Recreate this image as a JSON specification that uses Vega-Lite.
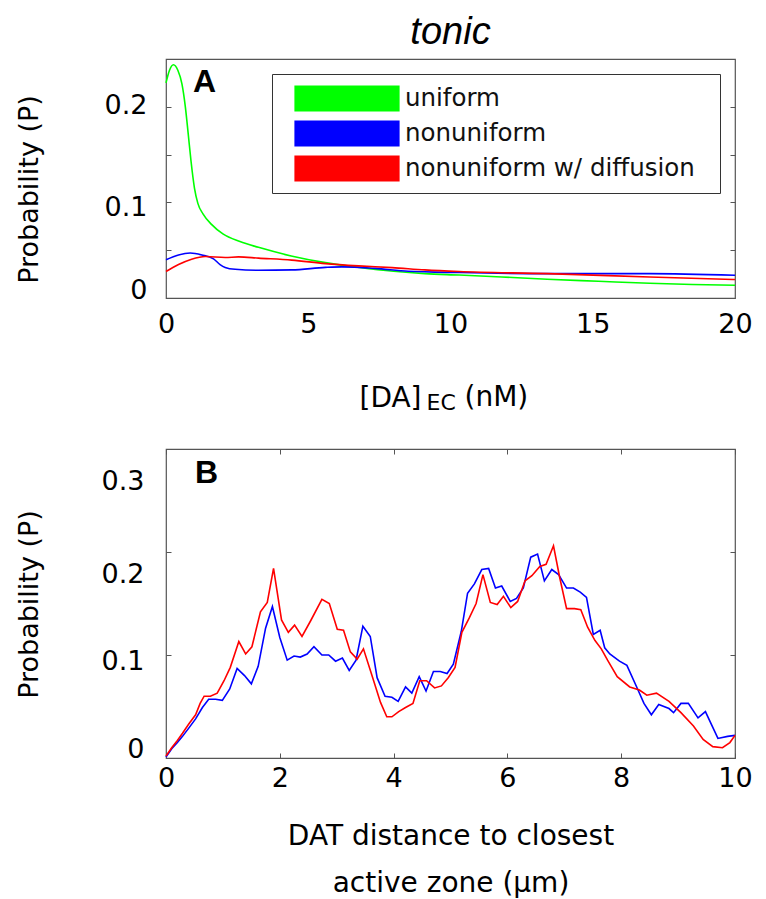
{
  "$schema": "https://vega.github.io/schema/vega-lite/v6.json",
  "background": "white",
  "padding": {"left": 14, "top": 14, "right": 25, "bottom": 5},
  "title": {"text": "tonic", "font": "Liberation Sans", "fontSize": 38, "fontStyle": "italic", "fontWeight": "normal", "color": "#000", "anchor": "middle", "frame": "group", "baseline": "alphabetic", "offset": -24},
  "config": {
    "font": "DejaVu Sans",
    "view": {"stroke": "#555", "strokeWidth": 1.2},
    "axis": {"domain": false, "grid": false, "labelFontSize": 27, "labelColor": "#000", "titleFontSize": 27, "titleFontWeight": "normal", "titleColor": "#000", "tickColor": "#555", "tickSize": -5, "tickWidth": 1, "labelFlush": false, "labelOverlap": false}
  },
  "datasets": {
    "densA": [
      {"series": "uniform", "conc": 0, "p": 0.225},
      {"series": "uniform", "conc": 0.12, "p": 0.238},
      {"series": "uniform", "conc": 0.26, "p": 0.244},
      {"series": "uniform", "conc": 0.42, "p": 0.238},
      {"series": "uniform", "conc": 0.56, "p": 0.224},
      {"series": "uniform", "conc": 0.68, "p": 0.2},
      {"series": "uniform", "conc": 0.78, "p": 0.172},
      {"series": "uniform", "conc": 0.88, "p": 0.143},
      {"series": "uniform", "conc": 1.0, "p": 0.115},
      {"series": "uniform", "conc": 1.12, "p": 0.099},
      {"series": "uniform", "conc": 1.3, "p": 0.088},
      {"series": "uniform", "conc": 1.6, "p": 0.077},
      {"series": "uniform", "conc": 2.0, "p": 0.067},
      {"series": "uniform", "conc": 2.6, "p": 0.059},
      {"series": "uniform", "conc": 3.25, "p": 0.053},
      {"series": "uniform", "conc": 4.4, "p": 0.044},
      {"series": "uniform", "conc": 5.6, "p": 0.037},
      {"series": "uniform", "conc": 6.8, "p": 0.032},
      {"series": "uniform", "conc": 8.0, "p": 0.028},
      {"series": "uniform", "conc": 9.1, "p": 0.0255},
      {"series": "uniform", "conc": 10.3, "p": 0.024},
      {"series": "uniform", "conc": 11.8, "p": 0.022},
      {"series": "uniform", "conc": 13.4, "p": 0.0196},
      {"series": "uniform", "conc": 15.2, "p": 0.0175},
      {"series": "uniform", "conc": 17, "p": 0.0154},
      {"series": "uniform", "conc": 18.5, "p": 0.0142},
      {"series": "uniform", "conc": 20, "p": 0.0133},
      {"series": "nonuniform", "conc": 0, "p": 0.04},
      {"series": "nonuniform", "conc": 0.44, "p": 0.045},
      {"series": "nonuniform", "conc": 0.85, "p": 0.047},
      {"series": "nonuniform", "conc": 1.26, "p": 0.045},
      {"series": "nonuniform", "conc": 1.67, "p": 0.041},
      {"series": "nonuniform", "conc": 1.9, "p": 0.035},
      {"series": "nonuniform", "conc": 2.08, "p": 0.032},
      {"series": "nonuniform", "conc": 2.43, "p": 0.03},
      {"series": "nonuniform", "conc": 3.25, "p": 0.029},
      {"series": "nonuniform", "conc": 4.42, "p": 0.0294},
      {"series": "nonuniform", "conc": 5.6, "p": 0.032},
      {"series": "nonuniform", "conc": 6.18, "p": 0.0326},
      {"series": "nonuniform", "conc": 7.35, "p": 0.031},
      {"series": "nonuniform", "conc": 8.52, "p": 0.028},
      {"series": "nonuniform", "conc": 10.3, "p": 0.0266},
      {"series": "nonuniform", "conc": 13.4, "p": 0.0255},
      {"series": "nonuniform", "conc": 17, "p": 0.0255},
      {"series": "nonuniform", "conc": 20, "p": 0.0238},
      {"series": "nonuniform w/ diffusion", "conc": 0, "p": 0.0277},
      {"series": "nonuniform w/ diffusion", "conc": 0.44, "p": 0.035},
      {"series": "nonuniform w/ diffusion", "conc": 0.9, "p": 0.0406},
      {"series": "nonuniform w/ diffusion", "conc": 1.38, "p": 0.0434},
      {"series": "nonuniform w/ diffusion", "conc": 2.08, "p": 0.0424},
      {"series": "nonuniform w/ diffusion", "conc": 2.55, "p": 0.043},
      {"series": "nonuniform w/ diffusion", "conc": 3.25, "p": 0.0417},
      {"series": "nonuniform w/ diffusion", "conc": 4.42, "p": 0.0396},
      {"series": "nonuniform w/ diffusion", "conc": 5.6, "p": 0.036},
      {"series": "nonuniform w/ diffusion", "conc": 6.77, "p": 0.0336},
      {"series": "nonuniform w/ diffusion", "conc": 7.95, "p": 0.0318},
      {"series": "nonuniform w/ diffusion", "conc": 9.1, "p": 0.0294},
      {"series": "nonuniform w/ diffusion", "conc": 10.3, "p": 0.0277},
      {"series": "nonuniform w/ diffusion", "conc": 13.4, "p": 0.0255},
      {"series": "nonuniform w/ diffusion", "conc": 17, "p": 0.022},
      {"series": "nonuniform w/ diffusion", "conc": 20, "p": 0.0193}
    ],
    "distB": [
      {"series": "nonuniform", "dist": 0, "p": 0.001},
      {"series": "nonuniform", "dist": 0.1, "p": 0.009},
      {"series": "nonuniform", "dist": 0.2, "p": 0.015},
      {"series": "nonuniform", "dist": 0.29, "p": 0.021},
      {"series": "nonuniform", "dist": 0.4, "p": 0.029},
      {"series": "nonuniform", "dist": 0.52, "p": 0.038},
      {"series": "nonuniform", "dist": 0.64, "p": 0.049},
      {"series": "nonuniform", "dist": 0.75, "p": 0.057},
      {"series": "nonuniform", "dist": 0.87, "p": 0.057},
      {"series": "nonuniform", "dist": 0.99, "p": 0.056},
      {"series": "nonuniform", "dist": 1.12, "p": 0.067},
      {"series": "nonuniform", "dist": 1.25, "p": 0.087},
      {"series": "nonuniform", "dist": 1.38, "p": 0.08},
      {"series": "nonuniform", "dist": 1.5, "p": 0.072},
      {"series": "nonuniform", "dist": 1.62, "p": 0.089},
      {"series": "nonuniform", "dist": 1.75, "p": 0.126},
      {"series": "nonuniform", "dist": 1.87, "p": 0.147},
      {"series": "nonuniform", "dist": 2.0, "p": 0.117},
      {"series": "nonuniform", "dist": 2.13, "p": 0.095},
      {"series": "nonuniform", "dist": 2.25, "p": 0.099},
      {"series": "nonuniform", "dist": 2.36, "p": 0.098},
      {"series": "nonuniform", "dist": 2.48, "p": 0.101},
      {"series": "nonuniform", "dist": 2.6, "p": 0.108},
      {"series": "nonuniform", "dist": 2.74, "p": 0.1},
      {"series": "nonuniform", "dist": 2.86, "p": 0.1},
      {"series": "nonuniform", "dist": 2.98, "p": 0.094},
      {"series": "nonuniform", "dist": 3.1, "p": 0.097},
      {"series": "nonuniform", "dist": 3.22, "p": 0.085},
      {"series": "nonuniform", "dist": 3.34, "p": 0.095},
      {"series": "nonuniform", "dist": 3.46, "p": 0.128},
      {"series": "nonuniform", "dist": 3.59, "p": 0.118},
      {"series": "nonuniform", "dist": 3.71, "p": 0.078},
      {"series": "nonuniform", "dist": 3.85, "p": 0.06},
      {"series": "nonuniform", "dist": 3.97, "p": 0.059},
      {"series": "nonuniform", "dist": 4.08, "p": 0.055},
      {"series": "nonuniform", "dist": 4.21, "p": 0.069},
      {"series": "nonuniform", "dist": 4.32, "p": 0.063},
      {"series": "nonuniform", "dist": 4.45, "p": 0.079},
      {"series": "nonuniform", "dist": 4.57, "p": 0.065},
      {"series": "nonuniform", "dist": 4.7, "p": 0.084},
      {"series": "nonuniform", "dist": 4.82, "p": 0.084},
      {"series": "nonuniform", "dist": 4.94, "p": 0.082},
      {"series": "nonuniform", "dist": 5.05, "p": 0.091},
      {"series": "nonuniform", "dist": 5.19, "p": 0.123},
      {"series": "nonuniform", "dist": 5.3, "p": 0.16},
      {"series": "nonuniform", "dist": 5.42, "p": 0.169},
      {"series": "nonuniform", "dist": 5.55, "p": 0.183},
      {"series": "nonuniform", "dist": 5.67, "p": 0.184},
      {"series": "nonuniform", "dist": 5.79, "p": 0.165},
      {"series": "nonuniform", "dist": 5.9, "p": 0.167},
      {"series": "nonuniform", "dist": 6.05, "p": 0.152},
      {"series": "nonuniform", "dist": 6.16, "p": 0.155},
      {"series": "nonuniform", "dist": 6.28, "p": 0.165},
      {"series": "nonuniform", "dist": 6.41, "p": 0.195},
      {"series": "nonuniform", "dist": 6.53, "p": 0.198},
      {"series": "nonuniform", "dist": 6.65, "p": 0.172},
      {"series": "nonuniform", "dist": 6.78, "p": 0.183},
      {"series": "nonuniform", "dist": 6.9, "p": 0.178},
      {"series": "nonuniform", "dist": 7.04, "p": 0.165},
      {"series": "nonuniform", "dist": 7.16, "p": 0.165},
      {"series": "nonuniform", "dist": 7.28, "p": 0.161},
      {"series": "nonuniform", "dist": 7.39, "p": 0.156},
      {"series": "nonuniform", "dist": 7.51, "p": 0.12},
      {"series": "nonuniform", "dist": 7.63, "p": 0.124},
      {"series": "nonuniform", "dist": 7.71, "p": 0.107},
      {"series": "nonuniform", "dist": 7.8, "p": 0.101},
      {"series": "nonuniform", "dist": 7.97, "p": 0.094},
      {"series": "nonuniform", "dist": 8.1, "p": 0.09},
      {"series": "nonuniform", "dist": 8.28, "p": 0.068},
      {"series": "nonuniform", "dist": 8.4, "p": 0.053},
      {"series": "nonuniform", "dist": 8.53, "p": 0.042},
      {"series": "nonuniform", "dist": 8.66, "p": 0.052},
      {"series": "nonuniform", "dist": 8.84, "p": 0.048},
      {"series": "nonuniform", "dist": 8.92, "p": 0.044},
      {"series": "nonuniform", "dist": 9.05, "p": 0.053},
      {"series": "nonuniform", "dist": 9.18, "p": 0.053},
      {"series": "nonuniform", "dist": 9.35, "p": 0.039},
      {"series": "nonuniform", "dist": 9.48, "p": 0.045},
      {"series": "nonuniform", "dist": 9.7, "p": 0.019},
      {"series": "nonuniform", "dist": 9.87, "p": 0.021},
      {"series": "nonuniform", "dist": 10, "p": 0.022},
      {"series": "nonuniform w/ diffusion", "dist": 0, "p": 0.002},
      {"series": "nonuniform w/ diffusion", "dist": 0.1, "p": 0.01},
      {"series": "nonuniform w/ diffusion", "dist": 0.2, "p": 0.017},
      {"series": "nonuniform w/ diffusion", "dist": 0.29, "p": 0.024},
      {"series": "nonuniform w/ diffusion", "dist": 0.4, "p": 0.033},
      {"series": "nonuniform w/ diffusion", "dist": 0.52, "p": 0.042},
      {"series": "nonuniform w/ diffusion", "dist": 0.6, "p": 0.053},
      {"series": "nonuniform w/ diffusion", "dist": 0.67, "p": 0.06},
      {"series": "nonuniform w/ diffusion", "dist": 0.78, "p": 0.06},
      {"series": "nonuniform w/ diffusion", "dist": 0.9, "p": 0.063},
      {"series": "nonuniform w/ diffusion", "dist": 1.02, "p": 0.075},
      {"series": "nonuniform w/ diffusion", "dist": 1.13, "p": 0.088},
      {"series": "nonuniform w/ diffusion", "dist": 1.28, "p": 0.113},
      {"series": "nonuniform w/ diffusion", "dist": 1.4, "p": 0.101},
      {"series": "nonuniform w/ diffusion", "dist": 1.51, "p": 0.108},
      {"series": "nonuniform w/ diffusion", "dist": 1.66, "p": 0.142},
      {"series": "nonuniform w/ diffusion", "dist": 1.78, "p": 0.151},
      {"series": "nonuniform w/ diffusion", "dist": 1.89, "p": 0.184},
      {"series": "nonuniform w/ diffusion", "dist": 2.03, "p": 0.134},
      {"series": "nonuniform w/ diffusion", "dist": 2.15, "p": 0.122},
      {"series": "nonuniform w/ diffusion", "dist": 2.26, "p": 0.129},
      {"series": "nonuniform w/ diffusion", "dist": 2.39, "p": 0.118},
      {"series": "nonuniform w/ diffusion", "dist": 2.54, "p": 0.133},
      {"series": "nonuniform w/ diffusion", "dist": 2.74, "p": 0.154},
      {"series": "nonuniform w/ diffusion", "dist": 2.87, "p": 0.15},
      {"series": "nonuniform w/ diffusion", "dist": 3.01, "p": 0.125},
      {"series": "nonuniform w/ diffusion", "dist": 3.12, "p": 0.124},
      {"series": "nonuniform w/ diffusion", "dist": 3.24, "p": 0.103},
      {"series": "nonuniform w/ diffusion", "dist": 3.36, "p": 0.096},
      {"series": "nonuniform w/ diffusion", "dist": 3.47, "p": 0.106},
      {"series": "nonuniform w/ diffusion", "dist": 3.62, "p": 0.08},
      {"series": "nonuniform w/ diffusion", "dist": 3.77, "p": 0.054},
      {"series": "nonuniform w/ diffusion", "dist": 3.88, "p": 0.04},
      {"series": "nonuniform w/ diffusion", "dist": 3.97, "p": 0.04},
      {"series": "nonuniform w/ diffusion", "dist": 4.09, "p": 0.045},
      {"series": "nonuniform w/ diffusion", "dist": 4.21, "p": 0.049},
      {"series": "nonuniform w/ diffusion", "dist": 4.34, "p": 0.053},
      {"series": "nonuniform w/ diffusion", "dist": 4.46, "p": 0.075},
      {"series": "nonuniform w/ diffusion", "dist": 4.58, "p": 0.075},
      {"series": "nonuniform w/ diffusion", "dist": 4.72, "p": 0.068},
      {"series": "nonuniform w/ diffusion", "dist": 4.84, "p": 0.07},
      {"series": "nonuniform w/ diffusion", "dist": 4.96, "p": 0.078},
      {"series": "nonuniform w/ diffusion", "dist": 5.08, "p": 0.088},
      {"series": "nonuniform w/ diffusion", "dist": 5.2, "p": 0.122},
      {"series": "nonuniform w/ diffusion", "dist": 5.33, "p": 0.136},
      {"series": "nonuniform w/ diffusion", "dist": 5.45, "p": 0.15},
      {"series": "nonuniform w/ diffusion", "dist": 5.57, "p": 0.178},
      {"series": "nonuniform w/ diffusion", "dist": 5.7, "p": 0.151},
      {"series": "nonuniform w/ diffusion", "dist": 5.82, "p": 0.149},
      {"series": "nonuniform w/ diffusion", "dist": 5.93, "p": 0.157},
      {"series": "nonuniform w/ diffusion", "dist": 6.06, "p": 0.146},
      {"series": "nonuniform w/ diffusion", "dist": 6.18, "p": 0.152},
      {"series": "nonuniform w/ diffusion", "dist": 6.31, "p": 0.172},
      {"series": "nonuniform w/ diffusion", "dist": 6.43, "p": 0.177},
      {"series": "nonuniform w/ diffusion", "dist": 6.57, "p": 0.186},
      {"series": "nonuniform w/ diffusion", "dist": 6.68, "p": 0.188},
      {"series": "nonuniform w/ diffusion", "dist": 6.81, "p": 0.206},
      {"series": "nonuniform w/ diffusion", "dist": 6.92, "p": 0.175},
      {"series": "nonuniform w/ diffusion", "dist": 7.04, "p": 0.145},
      {"series": "nonuniform w/ diffusion", "dist": 7.18, "p": 0.145},
      {"series": "nonuniform w/ diffusion", "dist": 7.29, "p": 0.144},
      {"series": "nonuniform w/ diffusion", "dist": 7.41, "p": 0.127},
      {"series": "nonuniform w/ diffusion", "dist": 7.54, "p": 0.114},
      {"series": "nonuniform w/ diffusion", "dist": 7.65, "p": 0.106},
      {"series": "nonuniform w/ diffusion", "dist": 7.76, "p": 0.095},
      {"series": "nonuniform w/ diffusion", "dist": 7.93, "p": 0.079},
      {"series": "nonuniform w/ diffusion", "dist": 8.15, "p": 0.069},
      {"series": "nonuniform w/ diffusion", "dist": 8.32, "p": 0.066},
      {"series": "nonuniform w/ diffusion", "dist": 8.45, "p": 0.061},
      {"series": "nonuniform w/ diffusion", "dist": 8.62, "p": 0.063},
      {"series": "nonuniform w/ diffusion", "dist": 8.84, "p": 0.055},
      {"series": "nonuniform w/ diffusion", "dist": 9.05, "p": 0.044},
      {"series": "nonuniform w/ diffusion", "dist": 9.27, "p": 0.031},
      {"series": "nonuniform w/ diffusion", "dist": 9.44, "p": 0.018},
      {"series": "nonuniform w/ diffusion", "dist": 9.61, "p": 0.011},
      {"series": "nonuniform w/ diffusion", "dist": 9.78, "p": 0.01},
      {"series": "nonuniform w/ diffusion", "dist": 9.91, "p": 0.015},
      {"series": "nonuniform w/ diffusion", "dist": 10, "p": 0.022}
    ]
  },
  "bounds": "flush",
  "spacing": 151,
  "resolve": {"scale": {"color": "independent"}, "legend": {"color": "independent"}},
  "vconcat": [
    {
      "width": 569,
      "height": 239,
      "data": {"name": "densA"},
      "layer": [
        {
          "transform": [{"filter": "datum.series === 'uniform'"}],
          "mark": {"type": "line", "interpolate": "monotone", "strokeWidth": 1.6},
          "encoding": {
            "x": {"field": "conc", "type": "quantitative", "scale": {"domain": [0, 20], "nice": false, "zero": false},
              "axis": {"orient": "bottom", "values": [0, 5, 10, 15, 20], "ticks": false, "labelPadding": 13, "title": "[DA]", "titleFontSize": 28, "titleX": 224, "titleY": 108, "titleAlign": "center", "titleBaseline": "alphabetic"}},
            "y": {"field": "p", "type": "quantitative", "scale": {"domain": [0, 0.25], "nice": false},
              "axis": {"orient": "left", "values": [0, 0.05, 0.1, 0.15, 0.2], "format": "~g", "labelExpr": "datum.value == 0 || datum.value == 0.1 || datum.value == 0.2 ? datum.label : ''", "labelPadding": 24, "labelOffset": {"expr": "datum.value == 0 ? -8 : datum.value == 0.1 ? 5 : -1"}, "title": "Probability (P)", "titleX": -129, "titleY": 130, "titleBaseline": "alphabetic"}},
            "color": {"field": "series", "type": "nominal",
              "scale": {"domain": ["uniform", "nonuniform", "nonuniform w/ diffusion"], "range": ["#00ff00", "#0000ff", "#ff0000"]},
              "legend": {"title": null, "orient": "top-right", "offset": 15, "padding": 7, "symbolOffset": 15, "symbolType": "M-1,-0.24H1V0.24H-1Z", "symbolSize": 10816, "clipHeight": 35, "rowPadding": 0, "labelFontSize": 24.5, "labelFont": "DejaVu Sans", "labelColor": "#111", "labelOffset": 5, "labelLimit": 500, "labelExpr": "datum.label + '\u2800'", "strokeColor": "#333", "fillColor": "white", "symbolStrokeWidth": 1.2, "symbolStrokeColor": "#222", "symbolOpacity": 1,
                "encode": {"symbols": {"update": {"fill": {"signal": "datum.value === 'uniform' ? '#00ff00' : datum.value === 'nonuniform' ? '#0000ff' : '#ff0000'"}, "stroke": {"value": "#222"}, "strokeWidth": {"value": 1.2}, "opacity": {"value": 1}}}}}}
          }
        },
        {
          "transform": [{"filter": "datum.series !== 'uniform'"}],
          "mark": {"type": "line", "interpolate": "monotone", "strokeWidth": 1.6},
          "encoding": {
            "x": {"field": "conc", "type": "quantitative", "scale": {"domain": [0, 20], "nice": false, "zero": false},
              "axis": {"orient": "top", "ticks": false, "labels": false, "title": null}},
            "y": {"field": "p", "type": "quantitative", "scale": {"domain": [0, 0.25], "nice": false},
              "axis": {"orient": "right", "values": [0, 0.05, 0.1, 0.15, 0.2], "labels": false, "title": null}},
            "color": {"field": "series", "type": "nominal"}
          }
        },
        {
          "data": {"values": [{"panel": "A", "sub": "EC", "unit": "(nM)"}]},
          "layer": [
            {
              "mark": {"type": "text", "font": "Liberation Sans", "fontSize": 32, "fontWeight": "bold", "color": "#000", "align": "left", "baseline": "alphabetic", "dx": 27, "dy": 33},
              "encoding": {
                "x": {"datum": 0, "type": "quantitative", "axis": null},
                "y": {"datum": 0.25, "type": "quantitative", "axis": null},
                "text": {"field": "panel"}
              }
            },
            {
              "mark": {"type": "text", "fontSize": 22, "color": "#000", "align": "left", "baseline": "alphabetic", "dx": -24, "dy": 112},
              "encoding": {
                "x": {"datum": 10, "type": "quantitative", "axis": null},
                "y": {"datum": 0, "type": "quantitative", "axis": null},
                "text": {"field": "sub"}
              }
            },
            {
              "mark": {"type": "text", "fontSize": 28, "color": "#000", "align": "left", "baseline": "alphabetic", "dx": 14, "dy": 108},
              "encoding": {
                "x": {"datum": 10, "type": "quantitative", "axis": null},
                "y": {"datum": 0, "type": "quantitative", "axis": null},
                "text": {"field": "unit"}
              }
            }
          ]
        }
      ],
      "resolve": {"axis": {"x": "independent", "y": "independent"}}
    },
    {
      "width": 569,
      "height": 309,
      "data": {"name": "distB"},
      "layer": [
        {
          "transform": [{"filter": "datum.series === 'nonuniform'"}],
          "mark": {"type": "line", "color": "#0000ff", "strokeWidth": 1.6},
          "encoding": {
            "x": {"field": "dist", "type": "quantitative", "scale": {"domain": [0, 10], "nice": false, "zero": false},
              "axis": {"orient": "bottom", "values": [0, 2, 4, 6, 8, 10], "labelPadding": 12, "title": ["DAT distance to closest", "active zone (\u03bcm)"], "titleFontSize": 28, "titleY": 86, "titleBaseline": "alphabetic", "titleLineHeight": 47}},
            "y": {"field": "p", "type": "quantitative", "scale": {"domain": [0, 0.3], "nice": false},
              "axis": {"orient": "left", "values": [0, 0.1, 0.2, 0.3], "format": "~g", "labelPadding": 27, "labelOffset": {"expr": "datum.value == 0 ? -9 : datum.value == 0.1 ? 6 : datum.value == 0.2 ? 22 : 32"}, "title": "Probability (P)", "titleX": -129, "titleY": 155, "titleBaseline": "alphabetic"}}
          }
        },
        {
          "transform": [{"filter": "datum.series !== 'nonuniform'"}],
          "mark": {"type": "line", "color": "#ff0000", "strokeWidth": 1.6},
          "encoding": {
            "x": {"field": "dist", "type": "quantitative", "scale": {"domain": [0, 10], "nice": false, "zero": false},
              "axis": {"orient": "top", "values": [0, 2, 4, 6, 8, 10], "labels": false, "title": null}},
            "y": {"field": "p", "type": "quantitative", "scale": {"domain": [0, 0.3], "nice": false},
              "axis": {"orient": "right", "values": [0, 0.1, 0.2, 0.3], "labels": false, "title": null}}
          }
        },
        {
          "data": {"values": [{"panel": "B"}]},
          "mark": {"type": "text", "font": "Liberation Sans", "fontSize": 32, "fontWeight": "bold", "color": "#000", "align": "left", "baseline": "alphabetic", "dx": 29, "dy": 34},
          "encoding": {
            "x": {"datum": 0, "type": "quantitative", "axis": null},
            "y": {"datum": 0.3, "type": "quantitative", "axis": null},
            "text": {"field": "panel"}
          }
        }
      ],
      "resolve": {"axis": {"x": "independent", "y": "independent"}}
    }
  ]
}
